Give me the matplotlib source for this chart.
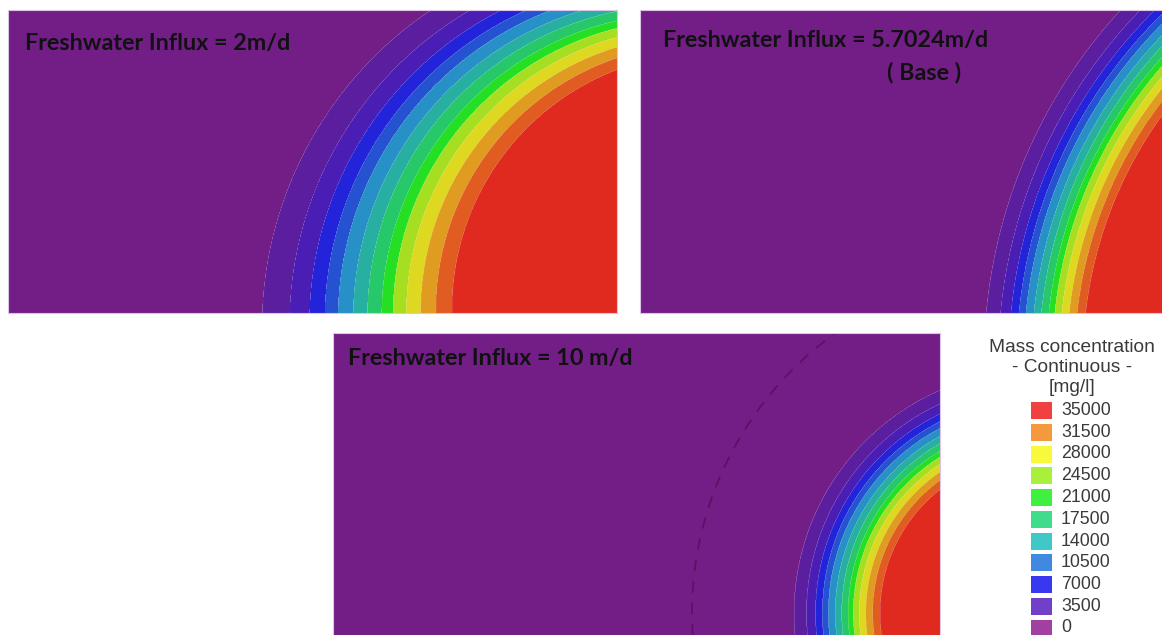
import numpy as np
import matplotlib
matplotlib.use("Agg")
import matplotlib.pyplot as plt
from matplotlib.patches import Rectangle

# Concentration carried by each front between fresh and salt water [mg/l]
front_levels = [2500, 5000, 7500, 10000, 12500, 15000, 17500,
                20000, 22500, 25000, 27500, 30000, 32500]
# Relative position of each front between the outermost and innermost front
front_position = [0.0, 0.145, 0.25, 0.33, 0.40, 0.48, 0.555,
                  0.63, 0.69, 0.76, 0.835, 0.915, 1.0]

# Filled bands and their colours
band_bounds = [0, 2500, 5000, 7500, 10000, 12500, 15000, 17500,
               20000, 22500, 25000, 27500, 30000, 32500, 35000]
band_colors = ["#721e86", "#5b1e9f", "#4a1db4", "#2323da", "#2452d0",
               "#2790c6", "#27afa2", "#26c86a", "#24df24", "#a6df22",
               "#dfd820", "#e09c20", "#e05c20", "#e02a20"]

# Scenarios
panel_titles = ["Freshwater Influx = 2m/d",
                "Freshwater Influx = 5.7024m/d",
                "Freshwater Influx = 10 m/d"]
# (centre x, centre y, radius) of the outermost and innermost front per scenario
outer_front = [(636, -14, 382), (861, -47, 517), (704, 23, 243)]
inner_front = [(700, 4, 256), (861, -47, 418), (704, 23, 157)]
domain_width = [609, 609, 607]
domain_height = 303
# faint low-salinity trace seen in the 10 m/d scenario (centre x, centre y, radius)
trace_front = (704, 23, 345)

# Legend
legend_values = [35000, 31500, 28000, 24500, 21000, 17500,
                 14000, 10500, 7000, 3500, 0]
legend_colors = ["#f04040", "#f59a3c", "#f8f83c", "#a8f03c", "#40f040",
                 "#40dc8c", "#40c8c8", "#4088e0", "#3838f0", "#7040c8",
                 "#a040a0"]

FIG_W, FIG_H = 1162, 635
fig = plt.figure(figsize=(FIG_W / 100, FIG_H / 100), dpi=100)
fig.patch.set_facecolor("white")

# axes boxes in pixels: left, top, width, height
panel_boxes = [(8, 10, 609, 303), (640, 10, 609, 303), (333, 333, 607, 303)]


def px_axes(left, top, width, height):
    return fig.add_axes([left / FIG_W, 1 - (top + height) / FIG_H,
                         width / FIG_W, height / FIG_H])


def salinity_field(i, X, Y):
    field = np.zeros_like(X)
    ox, oy, orad = outer_front[i]
    ix, iy, irad = inner_front[i]
    for level, s in zip(front_levels, front_position):
        cx = ox + (ix - ox) * s
        cy = oy + (iy - oy) * s
        r = orad + (irad - orad) * s
        inside = np.hypot(X - cx, Y - cy) <= r
        field = np.where(inside, np.maximum(field, level + 1250), field)
    return field


for i, box in enumerate(panel_boxes):
    ax = px_axes(*box)
    W = domain_width[i]
    H = domain_height
    x = np.linspace(0, W, 2 * W)
    y = np.linspace(0, H, 2 * H)
    X, Y = np.meshgrid(x, y)
    field = salinity_field(i, X, Y)
    ax.contourf(X, Y, field, levels=band_bounds, colors=band_colors,
                antialiased=True)
    ax.set_xlim(0, W)
    ax.set_ylim(0, H)
    ax.set_xticks([])
    ax.set_yticks([])
    for sp in ax.spines.values():
        sp.set_color("#dcc4e6")
        sp.set_linewidth(0.8)

    if i == 2:
        tx, ty, tr = trace_front
        cs = ax.contour(X, Y, np.hypot(X - tx, Y - ty), levels=[tr],
                        colors="#5e0f62", linewidths=1.2)
        cs.set_linestyle((0, (7, 6)))

    title_pos = [(0.028, 0.889), (0.038, 0.898), (0.025, 0.915)][i]
    ax.text(*title_pos, panel_titles[i], transform=ax.transAxes,
            ha="left", va="center", fontsize=16.8, fontweight="bold",
            family="Lato", color="#111111")
    if i == 1:
        ax.text(0.466, 0.795, "( Base )", transform=ax.transAxes,
                ha="center", va="center", fontsize=16.8, fontweight="bold",
                family="Lato", color="#111111")

# Legend drawn in figure pixels
lg = fig.add_axes([0, 0, 1, 1])
lg.set_xlim(0, FIG_W)
lg.set_ylim(FIG_H, 0)
lg.axis("off")
for txt, yy in zip(["Mass concentration", "- Continuous -", "[mg/l]"],
                   [347, 367, 388]):
    lg.text(1072, yy, txt, ha="center", va="center", fontsize=13.8,
            family="Liberation Sans", color="#3a3a3a")
for k, (val, col) in enumerate(zip(legend_values, legend_colors)):
    yc = 410.5 + k * 21.75
    lg.add_patch(Rectangle((1031, yc - 8.5), 21, 17, facecolor=col,
                           edgecolor="none"))
    lg.text(1061, yc, str(val), ha="left", va="center", fontsize=12.8,
            family="Liberation Sans", color="#3a3a3a")

fig.savefig("out.png", dpi=100)
